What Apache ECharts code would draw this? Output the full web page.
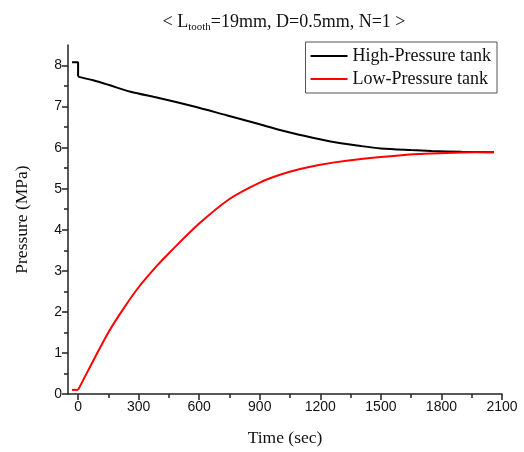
<!DOCTYPE html>
<html>
<head>
<meta charset="utf-8">
<script src="https://cdn.jsdelivr.net/npm/echarts@6/dist/echarts.min.js"></script>
<style>html,body{margin:0;padding:0;background:#fff;}#c{width:524px;height:452px;}</style>
</head>
<body>
<div id="c"></div>
<script>
const highTime = [-30, 0, 0, 75, 150, 260, 400, 570, 735, 900, 1000, 1100, 1250, 1400, 1500, 1650, 1750, 1900, 2060];
const highPressure = [8.08, 8.08, 7.73, 7.64, 7.53, 7.36, 7.21, 7.01, 6.79, 6.57, 6.43, 6.31, 6.15, 6.04, 5.98, 5.94, 5.92, 5.90, 5.89];
const lowTime = [-30, 0, 75, 150, 225, 300, 390, 450, 600, 750, 900, 1000, 1100, 1200, 1330, 1500, 1660, 1750, 1900, 2060];
const lowPressure = [0.1, 0.1, 0.81, 1.5, 2.08, 2.6, 3.12, 3.43, 4.15, 4.75, 5.15, 5.34, 5.48, 5.585, 5.68, 5.77, 5.84, 5.86, 5.88, 5.89];
const xMajorTicks = [0, 300, 600, 900, 1200, 1500, 1800, 2100];
const xMinorTicks = [150, 450, 750, 1050, 1350, 1650, 1950];
const yMajorTicks = [0, 1, 2, 3, 4, 5, 6, 7, 8];
const yMinorTicks = [0.5, 1.5, 2.5, 3.5, 4.5, 5.5, 6.5, 7.5];
const seriesNames = ['High-Pressure tank', 'Low-Pressure tank'];

const chart = echarts.init(document.getElementById('c'), null, {renderer: 'canvas'});
const axisColor = '#222';
const serif = '"Liberation Serif", "DejaVu Serif", serif';
const sans = '"Liberation Sans", Arial, sans-serif';
const xMin = -50, xMax = 2100, yMin = 0, yMax = 8.5;

const pairs = (ts, vs) => ts.map((t, i) => [t, vs[i]]);
const highAll = pairs(highTime, highPressure);
const lowAll = pairs(lowTime, lowPressure);
// step part (before/at release) drawn straight, the decay/rise drawn smooth
const highStep = highAll.slice(0, 3);
const highCurve = highAll.slice(2);
const lowStep = lowAll.slice(0, 2);
const lowCurve = lowAll.slice(1);

const lineSeries = (name, color, data, smooth) => ({
  name, type: 'line', symbol: 'none', smooth,
  xAxisIndex: 0, yAxisIndex: 0,
  lineStyle: { color, width: 2 }, itemStyle: { color },
  data
});

chart.setOption({
  animation: false,
  backgroundColor: '#fff',
  title: {
    text: '< L{sub|tooth}=19mm, D=0.5mm, N=1 >',
    left: 279, top: 7, textAlign: 'center',
    textStyle: {
      fontFamily: serif, fontSize: 18, fontWeight: 'normal', color: '#111',
      rich: { sub: { fontFamily: serif, fontSize: 11, color: '#111', padding: [10, 0, 0, 0] } }
    }
  },
  legend: {
    orient: 'vertical', right: 27, top: 42,
    data: seriesNames,
    icon: 'rect',
    itemWidth: 37, itemHeight: 2, itemGap: 5,
    borderColor: '#555', borderWidth: 1, padding: [5, 6, 5, 5],
    textStyle: { fontFamily: serif, fontSize: 18, color: '#111' }
  },
  grid: { left: 68, right: 22, top: 45, bottom: 55 },
  xAxis: [{
    type: 'value', min: xMin, max: xMax,
    name: 'Time (sec)', nameLocation: 'middle', nameGap: 35,
    nameTextStyle: { fontFamily: serif, fontSize: 17.5, color: '#111' },
    axisLine: { show: true, onZero: false, lineStyle: { color: axisColor, width: 1.5 } },
    axisTick: { show: true, length: 6, customValues: xMajorTicks, lineStyle: { color: axisColor, width: 1.5 } },
    axisLabel: { customValues: xMajorTicks, formatter: v => String(v), fontFamily: sans, fontSize: 14, color: '#111', margin: 6 },
    splitLine: { show: false }
  }, {
    type: 'value', min: xMin, max: xMax, position: 'bottom',
    axisLine: { show: false, onZero: false },
    axisTick: { show: true, length: 4, customValues: xMinorTicks, lineStyle: { color: axisColor, width: 1.5 } },
    axisLabel: { show: false },
    splitLine: { show: false }
  }],
  yAxis: [{
    type: 'value', min: yMin, max: yMax,
    name: 'Pressure (MPa)', nameLocation: 'middle', nameGap: 37,
    nameTextStyle: { fontFamily: serif, fontSize: 17.5, color: '#111' },
    axisLine: { show: true, onZero: false, lineStyle: { color: axisColor, width: 1.5 } },
    axisTick: { show: true, length: 6, customValues: yMajorTicks, lineStyle: { color: axisColor, width: 1.5 } },
    axisLabel: { customValues: yMajorTicks, formatter: v => String(v), fontFamily: sans, fontSize: 14, color: '#111', margin: 6 },
    splitLine: { show: false }
  }, {
    type: 'value', min: yMin, max: yMax, position: 'left',
    axisLine: { show: false, onZero: false },
    axisTick: { show: true, length: 4, customValues: yMinorTicks, lineStyle: { color: axisColor, width: 1.5 } },
    axisLabel: { show: false },
    splitLine: { show: false }
  }],
  series: [
    lineSeries(seriesNames[0], '#000', highStep, false),
    lineSeries(seriesNames[0], '#000', highCurve, 0.3),
    lineSeries(seriesNames[1], '#ff0000', lowStep, false),
    lineSeries(seriesNames[1], '#ff0000', lowCurve, 0.3)
  ]
});
</script>
</body>
</html>
